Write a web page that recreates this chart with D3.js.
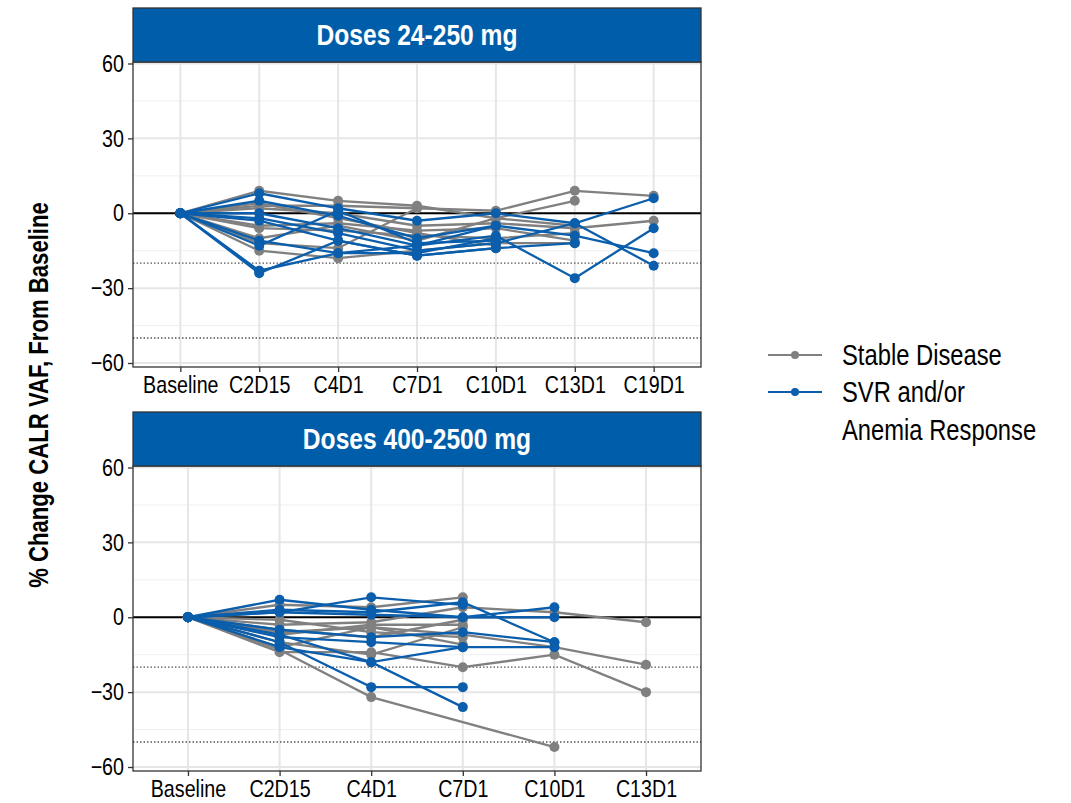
<!DOCTYPE html>
<html>
<head>
<meta charset="utf-8">
<script src="https://cdn.jsdelivr.net/npm/d3@7"></script>
<style>
  body { margin: 0; background: #fff; }
  text { font-family: "Liberation Sans", Arial, sans-serif; }
</style>
</head>
<body>
<script>
// visits for each panel
const visitsLow = ["Baseline", "C2D15", "C4D1", "C7D1", "C10D1", "C13D1", "C19D1"];
const visitsHigh = ["Baseline", "C2D15", "C4D1", "C7D1", "C10D1", "C13D1"];
const yTicks = [-60, -30, 0, 30, 60];
const yMinor = [-45, -15, 15, 45];
const refLines = [-20, -50];
const groups = ["Stable Disease", "SVR and/or\nAnemia Response"];

// % change per patient, doses 24-250 mg (null = no sample)
const lowStable = [
  [0, 3, 3, 2, 1, 9, 7],
  [0, 9, 5, 3, -2, 5, null],
  [0, 2, 0, -5, -4, -6, -3],
  [0, -5, -4, -7, -6, -11, null],
  [0, -6, -7, -9, -10, -8, null],
  [0, -10, -5, -11, -2, -5, null],
  [0, -15, -18, -15, -12, -12, null],
  [0, -12, -14, 2, null, null, null],
  [0, 4, -2, -8, -13, null, null]
];
const lowResp = [
  [0, 8, 2, -3, 0, -4, 6],
  [0, 5, -1, -10, -5, -9, -16],
  [0, 0, -6, -13, -9, -26, -6],
  [0, -2, -8, -15, -12, -4, -21],
  [0, -3, -11, -17, -14, -12, null],
  [0, -11, -16, -16, -10, null, null],
  [0, -23, -16, -13, -5, null, null],
  [0, -24, -11, -17, -14, null, null],
  [0, -13, 1, -12, -11, null, null]
];

// % change per patient, doses 400-2500 mg
const highStable = [
  [0, -13, -32, null, -52, null],
  [0, -14, -14, -20, -15, -30],
  [0, -6, -4, -7, -12, -19],
  [0, -3, -2, 4, 2, -2],
  [0, 5, 4, 8, null, null],
  [0, -5, -8, -1, null, null],
  [0, -10, -15, -4, null, null],
  [0, -12, -4, -11, null, null],
  [0, -1, -6, -8, null, null],
  [0, -7, -3, -3, null, null]
];
const highResp = [
  [0, 7, 3, 0, 0, null],
  [0, 2, 8, 5, null, null],
  [0, 3, 2, 6, -10, null],
  [0, 2, 1, 0, 4, null],
  [0, -5, -8, -6, -10, null],
  [0, -8, -10, -12, -12, null],
  [0, -12, -18, -12, null, null],
  [0, -10, -28, -28, null, null],
  [0, -7, -18, -36, null, null]
];

const grey = "#808080";
const blue = "#0A5EAC";
const stripBlue = "#005DAA";

// the original uses a narrow face, so text is squeezed horizontally
const squeeze = 0.82;

const svg = d3.select("body").append("svg")
  .attr("width", 1071)
  .attr("height", 803);

const left = 133, right = 701;

// places a horizontally squeezed text
function label(parent, x, y, txt, size, anchor, bold, fill) {
  return parent.append("text")
    .attr("transform", "translate(" + x + "," + y + ") scale(" + squeeze + ",1)")
    .attr("text-anchor", anchor)
    .attr("fill", fill || "#000")
    .style("font-size", size + "px")
    .style("font-weight", bold ? "bold" : "normal")
    .text(txt);
}

function drawPanel(title, visits, stable, resp, top) {
  const stripH = 54;
  const plotTop = top + stripH;
  const plotH = 305;

  const x = d3.scalePoint()
    .domain(visits)
    .range([left, right])
    .padding(0.6);
  const y = d3.scaleLinear()
    .domain([-61.6, 60.6])
    .range([plotTop + plotH, plotTop]);

  const g = svg.append("g");

  // background grid
  g.selectAll(".minor").data(yMinor).enter().append("line")
    .attr("x1", left).attr("x2", right)
    .attr("y1", d => y(d)).attr("y2", d => y(d))
    .attr("stroke", "#f0f0f0").attr("stroke-width", 1);
  g.selectAll(".major").data(yTicks).enter().append("line")
    .attr("x1", left).attr("x2", right)
    .attr("y1", d => y(d)).attr("y2", d => y(d))
    .attr("stroke", "#e6e6e6").attr("stroke-width", 2);
  g.selectAll(".vgrid").data(visits).enter().append("line")
    .attr("x1", d => x(d)).attr("x2", d => x(d))
    .attr("y1", plotTop).attr("y2", plotTop + plotH)
    .attr("stroke", "#e6e6e6").attr("stroke-width", 2);

  // reference lines
  g.selectAll(".ref").data(refLines).enter().append("line")
    .attr("x1", left).attr("x2", right)
    .attr("y1", d => y(d)).attr("y2", d => y(d))
    .attr("stroke", "#555").attr("stroke-width", 1.4)
    .attr("stroke-dasharray", "1.5,2");
  g.append("line")
    .attr("x1", left).attr("x2", right)
    .attr("y1", y(0)).attr("y2", y(0))
    .attr("stroke", "#000").attr("stroke-width", 2.2);

  // patient lines
  const line = d3.line()
    .x(d => x(d[0]))
    .y(d => y(d[1]));

  function series(data, colour) {
    data.forEach(function(vals) {
      const pts = vals.map((v, i) => [visits[i], v]).filter(d => d[1] != null);
      g.append("path")
        .datum(pts)
        .attr("d", line)
        .attr("fill", "none")
        .attr("stroke", colour)
        .attr("stroke-width", 2.3);
      g.selectAll(null).data(pts).enter().append("circle")
        .attr("cx", d => x(d[0]))
        .attr("cy", d => y(d[1]))
        .attr("r", 5)
        .attr("fill", colour);
    });
  }
  series(stable, grey);
  series(resp, blue);

  // panel border
  g.append("rect")
    .attr("x", left).attr("y", plotTop)
    .attr("width", right - left).attr("height", plotH)
    .attr("fill", "none").attr("stroke", "#333").attr("stroke-width", 1.3);

  // strip
  g.append("rect")
    .attr("x", left).attr("y", top)
    .attr("width", right - left).attr("height", stripH)
    .attr("fill", stripBlue).attr("stroke", "#333").attr("stroke-width", 1.3);
  label(g, (left + right) / 2, top + stripH / 2 + 10, title, 30, "middle", true, "#fff");

  // axes
  const yAxis = d3.axisLeft(y).tickValues(yTicks).tickSize(5).tickPadding(4)
    .tickFormat(d => d < 0 ? "\u2212" + Math.abs(d) : d);
  const xAxis = d3.axisBottom(x).tickSize(5).tickPadding(4);

  const ya = g.append("g").attr("transform", "translate(" + left + ",0)").call(yAxis);
  const xa = g.append("g").attr("transform", "translate(0," + (plotTop + plotH) + ")").call(xAxis);
  [ya, xa].forEach(function(a) {
    a.select(".domain").remove();
    a.selectAll(".tick line").attr("stroke", "#333").attr("stroke-width", 1.3);
    a.selectAll(".tick text")
      .attr("fill", "#000")
      .attr("transform", "scale(" + squeeze + ",1)")
      .style("font-size", "24px")
      .style("font-family", "'Liberation Sans', Arial, sans-serif");
  });
  ya.selectAll(".tick text").attr("x", -9 / squeeze);
}

drawPanel("Doses 24-250 mg", visitsLow, lowStable, lowResp, 8);
drawPanel("Doses 400-2500 mg", visitsHigh, highStable, highResp, 412);

// y axis title
svg.append("text")
  .attr("transform", "translate(48,395) rotate(-90) scale(" + squeeze + ",1)")
  .attr("text-anchor", "middle")
  .style("font-size", "27px")
  .style("font-weight", "bold")
  .text("% Change CALR VAF, From Baseline");

// legend
const legendColours = [grey, blue];
const legend = svg.append("g").attr("class", "legend");
legend.selectAll("line")
  .data(groups)
  .enter()
  .append("line")
  .attr("x1", 768).attr("x2", 822)
  .attr("y1", (d, i) => 355 + i * 37)
  .attr("y2", (d, i) => 355 + i * 37)
  .attr("stroke", (d, i) => legendColours[i])
  .attr("stroke-width", 2);
legend.selectAll("circle")
  .data(groups)
  .enter()
  .append("circle")
  .attr("cx", 795)
  .attr("cy", (d, i) => 355 + i * 37)
  .attr("r", 4)
  .attr("fill", (d, i) => legendColours[i]);
groups.forEach(function(txt, i) {
  txt.split("\n").forEach(function(part, j) {
    label(legend, 842, 355 + i * 37 + j * 38 + 10, part, 29, "start", false);
  });
});
</script>
</body>
</html>
